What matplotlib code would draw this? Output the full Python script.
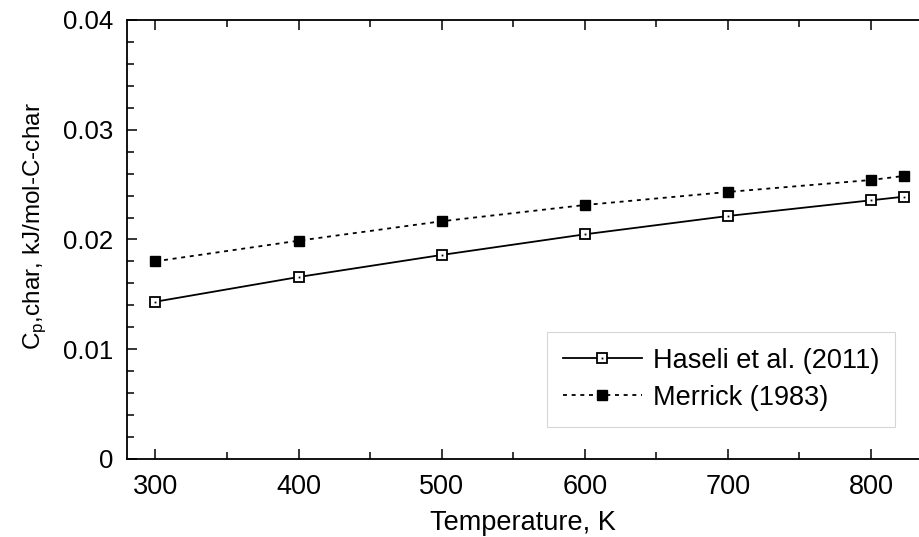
import matplotlib
matplotlib.use("Agg")
import matplotlib.pyplot as plt
from matplotlib.ticker import MultipleLocator, FuncFormatter
from matplotlib.legend_handler import HandlerTuple

plt.rcParams['font.family'] = ['Liberation Sans', 'DejaVu Sans']
plt.rcParams['mathtext.default'] = 'regular'

temperature = [300, 400, 500, 600, 700, 800, 823]
haseli = [0.01433, 0.01658, 0.01859, 0.02047, 0.02214, 0.02357, 0.0239]
merrick = [0.01801, 0.01989, 0.02166, 0.02314, 0.02433, 0.02542, 0.02579]
labels = ["Haseli et al. (2011)", "Merrick (1983)"]

FS = 19.5

fig = plt.figure(figsize=(9.19, 5.37), dpi=100)
ax = fig.add_axes([0.138, 0.1453, 0.862, 0.8175])

h1, = ax.plot(temperature, haseli, color='black', lw=1.3, marker='s', ms=7,
              mfc='white', mec='black', mew=1.3)
h1d, = ax.plot(temperature, haseli, ls='none', marker='s', ms=1.3,
               mfc='black', mec='black', mew=0)
h2, = ax.plot(temperature, merrick, color='black', lw=1.3, ls=(0, (2.2, 2.6)),
              marker='s', ms=7.5, mfc='black', mec='black')

ax.set_xlim(280, 833.5)
ax.set_ylim(0, 0.04)
ax.xaxis.set_major_locator(MultipleLocator(100))
ax.xaxis.set_minor_locator(MultipleLocator(50))
ax.yaxis.set_major_locator(MultipleLocator(0.01))
ax.yaxis.set_minor_locator(MultipleLocator(0.002))
ax.yaxis.set_major_formatter(FuncFormatter(
    lambda v, p: '0' if abs(v) < 1e-12 else f'{v:.2f}'))

ax.spines['right'].set_visible(False)
for s in ['left', 'bottom', 'top']:
    ax.spines[s].set_linewidth(1.3)

ax.tick_params(which='both', direction='in', top=True, right=False,
               labelsize=FS, width=1.1)
ax.tick_params(axis='y', labelsize=18.5)
ax.tick_params(axis='x', which='both', pad=11)
ax.tick_params(axis='y', which='both', pad=10)
ax.tick_params(which='major', length=7)
ax.tick_params(which='minor', length=5)

ax.set_xlabel('Temperature, K', fontsize=FS, labelpad=7)
ax.set_ylabel('C$_{p}$,char, kJ/mol-C-char', fontsize=17.5)
ax.yaxis.set_label_coords(-0.098, 0.53)

leg = ax.legend([(h1, h1d), h2], labels, loc='lower right',
                bbox_to_anchor=(0.987, 0.042), fontsize=FS,
                handler_map={tuple: HandlerTuple(ndivide=1)},
                frameon=True, fancybox=False, edgecolor='#cccccc',
                handlelength=2.9, handletextpad=0.4, borderpad=0.6,
                labelspacing=0.4)
leg.get_frame().set_linewidth(0.8)

fig.savefig('out.png', dpi=100)
